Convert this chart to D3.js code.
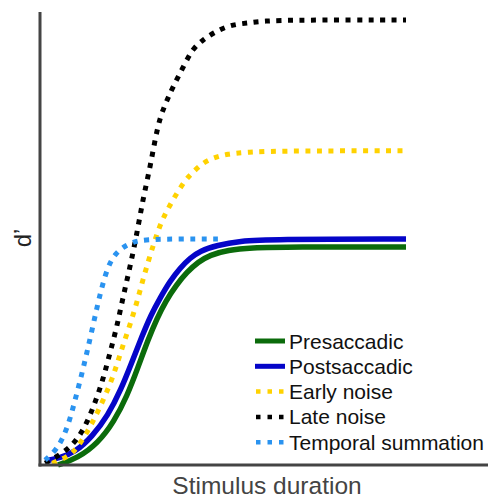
<!DOCTYPE html>
<html>
<head>
<meta charset="utf-8">
<script src="https://cdn.jsdelivr.net/npm/d3@7"></script>
<style>
  body { margin: 0; background: #fff; }
  text { font-family: "Liberation Sans", Arial, sans-serif; }
</style>
</head>
<body>
<svg width="488" height="499"></svg>
<script>
// values (arbitrary units: duration 0-100, d' 0-100)
var seriesNames = ['Presaccadic', 'Postsaccadic', 'Early noise', 'Late noise', 'Temporal summation'];
var seriesColors = ['#0b6b0b', '#0505c8', '#ffd200', '#000000', '#2a93f0'];
var seriesDotted = [false, false, true, true, true];

var preX = [4.9, 10.4, 15.8, 20.2, 23.8, 26.8, 29.5, 32.0, 34.4, 37.2, 40.2, 43.2, 46.4, 51.4, 57.4, 68.3, 100];
var preY = [0, 1.6, 4.9, 9.7, 15.5, 22.0, 28.1, 33.0, 36.9, 40.4, 43.4, 45.6, 47.2, 48.3, 48.8, 49.0, 49.0];

var postX = [1.4, 5.5, 9.6, 14.2, 18.6, 22.1, 25.1, 27.9, 30.3, 32.8, 35.5, 38.3, 41.0, 43.7, 48.4, 54.6, 62.8, 100];
var postY = [0.9, 1.6, 2.9, 6.3, 11.2, 16.9, 23.1, 29.0, 33.7, 37.5, 41.3, 44.3, 46.5, 48.1, 49.4, 50.3, 50.7, 50.8];

var earlyX = [3.3, 7.7, 10.4, 13.7, 16.4, 19.1, 21.0, 22.7, 24.6, 26.5, 28.1, 30.1, 32.0, 33.6, 36.3, 39.6, 41.8, 44.5, 47.3, 51.1, 56.6, 65.6, 100];
var earlyY = [0.4, 1.8, 4.0, 8.5, 13.0, 18.0, 22.5, 27.0, 31.5, 36.6, 41.6, 47.2, 52.1, 55.5, 59.6, 64.0, 65.8, 67.9, 69.0, 69.9, 70.3, 70.6, 70.6];

var lateX = [1.4, 6.8, 10.1, 12.8, 15.0, 17.2, 19.1, 21.0, 22.7, 24.6, 26.5, 28.1, 30.1, 31.4, 32.8, 34.7, 36.3, 39.1, 41.8, 44.5, 47.3, 51.9, 56.6, 60.9, 70.2, 100];
var lateY = [0.4, 2.9, 5.6, 9.4, 13.9, 19.1, 25.2, 31.0, 37.8, 44.5, 52.1, 59.6, 67.0, 73.0, 78.2, 82.0, 84.9, 89.4, 93.7, 95.5, 97.1, 98.9, 99.3, 99.8, 100, 100];

var tempX = [1.4, 4.6, 7.4, 9.6, 11.5, 12.8, 14.2, 15.6, 16.9, 18.6, 20.5, 22.7, 25.4, 28.7, 48.6];
var tempY = [1.1, 3.4, 7.9, 14.6, 20.7, 25.2, 30.3, 35.5, 40.0, 44.7, 47.4, 49.0, 50.1, 50.8, 50.8];

var seriesX = [preX, postX, earlyX, lateX, tempX];
var seriesY = [preY, postY, earlyY, lateY, tempY];

var svg = d3.select('svg');
var axisColor = '#444';

var x = d3.scaleLinear().domain([0, 100]).range([40, 406]);
var y = d3.scaleLinear().domain([0, 100]).range([465, 20]);

var line = d3.line()
  .x(function(d) { return x(d[0]); })
  .y(function(d) { return y(d[1]); })
  .curve(d3.curveBasis);

// curves, drawn so that blue lies over green
seriesNames.forEach(function(name, i) {
  var pts = seriesX[i].map(function(v, k) { return [v, seriesY[i][k]]; });
  svg.append('path')
    .datum(pts)
    .attr('d', line)
    .attr('fill', 'none')
    .attr('stroke', seriesColors[i])
    .attr('stroke-width', seriesDotted[i] ? 5 : 5.5)
    .attr('stroke-dasharray', seriesDotted[i] ? '5,6.5' : null);
});

// axes (no ticks)
svg.append('line')
  .attr('x1', 40).attr('x2', 40)
  .attr('y1', 12).attr('y2', 466.5)
  .attr('stroke', axisColor).attr('stroke-width', 3);
svg.append('line')
  .attr('x1', 38.5).attr('x2', 488)
  .attr('y1', 465).attr('y2', 465)
  .attr('stroke', axisColor).attr('stroke-width', 3);

svg.append('text')
  .attr('x', 267).attr('y', 494)
  .attr('text-anchor', 'middle')
  .attr('font-size', 24.5)
  .attr('fill', axisColor)
  .text('Stimulus duration');

svg.append('text')
  .attr('transform', 'translate(31,238) rotate(-90)')
  .attr('text-anchor', 'middle')
  .attr('font-size', 24)
  .attr('fill', '#222')
  .text('d\u2019');

// legend
var legend = svg.append('g').attr('transform', 'translate(255,341)');
seriesNames.forEach(function(name, i) {
  var row = legend.append('g').attr('transform', 'translate(0,' + (i * 25.3) + ')');
  row.append('line')
    .attr('x1', 0).attr('x2', 30)
    .attr('y1', 0).attr('y2', 0)
    .attr('stroke', seriesColors[i])
    .attr('stroke-width', seriesDotted[i] ? 4.5 : 5)
    .attr('stroke-dasharray', seriesDotted[i] ? '4.5,7' : null)
    .attr('stroke-dashoffset', seriesDotted[i] ? -1 : null);
  row.append('text')
    .attr('x', 34).attr('y', 7.5)
    .attr('font-size', 21)
    .attr('fill', '#111')
    .text(name);
});
</script>
</body>
</html>
